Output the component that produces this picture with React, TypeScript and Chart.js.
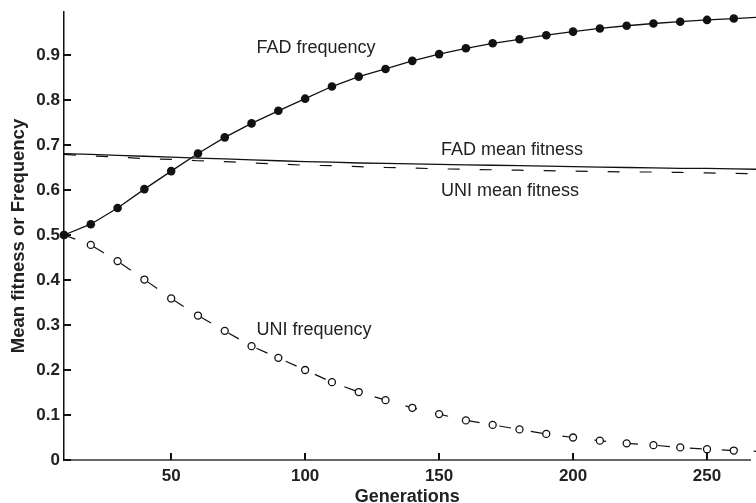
import { useEffect, useRef } from "react";
import { Chart, registerables } from "chart.js";

Chart.register(...registerables);

// ---- data ----
const generations = [
  10, 20, 30, 40, 50, 60, 70, 80, 90, 100, 110, 120, 130, 140, 150, 160, 170, 180, 190,
  200, 210, 220, 230, 240, 250, 260, 270,
];

const fadFrequency = [
  0.5, 0.524, 0.56, 0.602, 0.642, 0.681, 0.717, 0.748, 0.776, 0.803, 0.83, 0.852, 0.869,
  0.887, 0.902, 0.915, 0.926, 0.935, 0.944, 0.952, 0.959, 0.965, 0.97, 0.974, 0.978, 0.981,
  0.984,
];

const uniFrequency = [
  0.5, 0.478, 0.442, 0.401, 0.359, 0.321, 0.287, 0.253, 0.227, 0.2, 0.173, 0.151, 0.133,
  0.116, 0.102, 0.088, 0.078, 0.068, 0.058, 0.05, 0.043, 0.037, 0.033, 0.028, 0.024, 0.021,
  0.019,
];

const fadMeanFitness = [
  0.681, 0.679, 0.677, 0.675, 0.673, 0.671, 0.669, 0.667, 0.665, 0.663, 0.662, 0.66, 0.659,
  0.658, 0.657, 0.656, 0.655, 0.654, 0.653, 0.652, 0.651, 0.65, 0.649, 0.648, 0.648, 0.647,
  0.646,
];

const uniMeanFitness = [
  0.679, 0.676, 0.673, 0.67, 0.668, 0.665, 0.663, 0.66, 0.658, 0.655, 0.654, 0.652, 0.65,
  0.649, 0.647, 0.646, 0.645, 0.644, 0.643, 0.642, 0.641, 0.64, 0.64, 0.639, 0.638, 0.637,
  0.636,
];

const xTickValues = [50, 100, 150, 200, 250];
const yTickValues = [0, 0.1, 0.2, 0.3, 0.4, 0.5, 0.6, 0.7, 0.8, 0.9];

const curveLabels = ["FAD frequency", "FAD mean fitness", "UNI mean fitness", "UNI frequency"];

// ---- layout / style ----
const FONT = '"Liberation Sans", Arial, Helvetica, sans-serif';
const labelAnchors = [
  { gen: 81.85, value: 0.9044 },
  { gen: 150.7, value: 0.678 },
  { gen: 150.7, value: 0.5867 },
  { gen: 81.85, value: 0.2778 },
];

const toPoints = (vals: number[]) => generations.map((g, i) => ({ x: g, y: vals[i] }));

const decorPlugin = {
  id: "decor",
  afterDraw(chart: any) {
    const { ctx, chartArea } = chart;
    const x = chart.scales.x;
    const y = chart.scales.y;
    ctx.save();
    ctx.strokeStyle = "#111";
    ctx.lineWidth = 2;
    xTickValues.forEach((v) => {
      const px = Math.round(x.getPixelForValue(v));
      ctx.beginPath();
      ctx.moveTo(px, chartArea.bottom);
      ctx.lineTo(px, chartArea.bottom - 7);
      ctx.stroke();
    });
    yTickValues.forEach((v) => {
      const py = Math.round(y.getPixelForValue(v));
      ctx.beginPath();
      ctx.moveTo(chartArea.left, py);
      ctx.lineTo(chartArea.left + 7, py);
      ctx.stroke();
    });
    ctx.font = `18px ${FONT}`;
    ctx.fillStyle = "#222";
    ctx.textAlign = "left";
    ctx.textBaseline = "alphabetic";
    curveLabels.forEach((t, i) => {
      ctx.fillText(
        t,
        x.getPixelForValue(labelAnchors[i].gen),
        y.getPixelForValue(labelAnchors[i].value)
      );
    });
    ctx.restore();
  },
};

export default function App() {
  const canvasRef = useRef<HTMLCanvasElement | null>(null);

  useEffect(() => {
    document.body.style.margin = "0";
    const canvas = canvasRef.current;
    if (!canvas) return;
    const chart = new Chart(canvas, {
      type: "line",
      data: {
        datasets: [
          {
            label: curveLabels[0],
            data: toPoints(fadFrequency),
            borderColor: "#111",
            borderWidth: 1.3,
            pointRadius: 4.3,
            pointBackgroundColor: "#111",
            pointBorderWidth: 0,
            tension: 0,
            clip: false as any,
          },
          {
            label: curveLabels[3],
            data: toPoints(uniFrequency),
            borderColor: "#111",
            borderWidth: 1.2,
            borderDash: [12, 20],
            pointRadius: 3.5,
            pointBackgroundColor: "#fff",
            pointBorderColor: "#111",
            pointBorderWidth: 1.3,
            tension: 0,
            clip: false as any,
          },
          {
            label: curveLabels[1],
            data: toPoints(fadMeanFitness),
            borderColor: "#111",
            borderWidth: 1.3,
            pointRadius: 0,
            tension: 0,
            clip: false as any,
          },
          {
            label: curveLabels[2],
            data: toPoints(uniMeanFitness),
            borderColor: "#111",
            borderWidth: 1.2,
            borderDash: [12, 20],
            pointRadius: 0,
            tension: 0,
            clip: false as any,
          },
        ],
      },
      options: {
        animation: false,
        responsive: false,
        events: [],
        layout: { padding: { top: 12, left: 0, right: 0, bottom: 0 } },
        plugins: { legend: { display: false }, tooltip: { enabled: false } },
        scales: {
          x: {
            type: "linear",
            min: 10,
            max: 266.3,
            afterBuildTicks: (s: any) => {
              s.ticks = xTickValues.map((v) => ({ value: v }));
            },
            afterFit: (s: any) => {
              s.height = 43;
              s.paddingLeft = 0;
              s.paddingRight = 0;
            },
            grid: { display: false, drawTicks: false },
            border: { display: true, color: "#666", width: 2 },
            ticks: {
              font: { family: FONT, size: 17, weight: "bold" },
              color: "#222",
              padding: 6,
              maxRotation: 0,
              autoSkip: false,
            },
            title: {
              display: true,
              text: "Generations",
              font: { family: FONT, size: 18, weight: "bold", lineHeight: 1 },
              color: "#222",
              padding: { top: 0, bottom: -3 },
            },
          },
          y: {
            type: "linear",
            min: 0,
            max: 0.9956,
            afterBuildTicks: (s: any) => {
              s.ticks = yTickValues.map((v) => ({ value: v }));
            },
            afterFit: (s: any) => {
              s.width = 64;
              s.paddingTop = 0;
              s.paddingBottom = 0;
            },
            grid: { display: false, drawTicks: false },
            border: { display: true, color: "#111", width: 1.5 },
            ticks: {
              font: { family: FONT, size: 17, weight: "bold" },
              color: "#222",
              padding: 4,
              autoSkip: false,
              callback: (v: any) => (Number(v) === 0 ? "0" : Number(v).toFixed(1)),
            },
            title: {
              display: true,
              text: "Mean fitness or Frequency",
              font: { family: FONT, size: 18.5, weight: "bold", lineHeight: 1 },
              color: "#222",
              padding: { top: 9.5, bottom: 0 },
            },
          },
        },
      },
      plugins: [decorPlugin],
    });
    return () => chart.destroy();
  }, []);

  return (
    <div style={{ width: 756, height: 503 }}>
      <canvas ref={canvasRef} width={756} height={503} style={{ display: "block" }} />
    </div>
  );
}
